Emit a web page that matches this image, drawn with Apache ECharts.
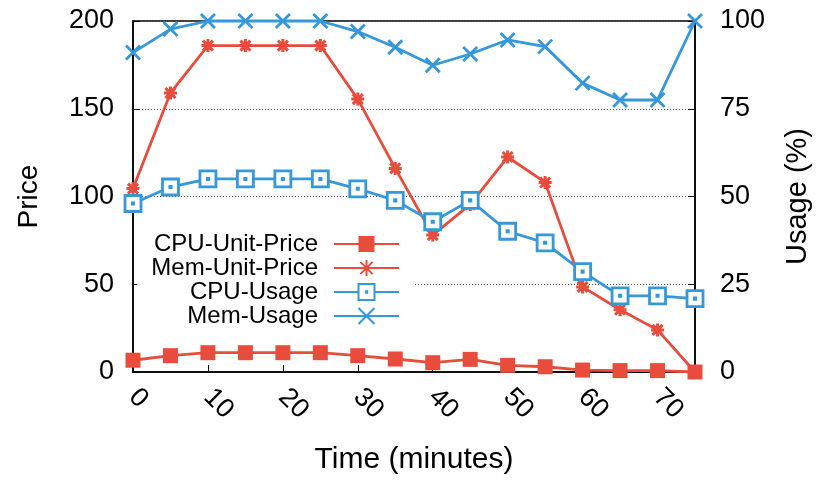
<!DOCTYPE html>
<html>
<head>
<meta charset="utf-8">
<script src="https://cdn.jsdelivr.net/npm/echarts@6/dist/echarts.min.js"></script>
<style>
  html, body { margin: 0; padding: 0; background: #fff; }
  #chart { width: 825px; height: 487px; }
</style>
</head>
<body>
<div id="chart"></div>
<script>
// Sampling times (minutes)
const time = [0, 5, 10, 15, 20, 25, 30, 35, 40, 45, 50, 55, 60, 65, 70, 75];

// Prices (left axis)
const cpuUnitPrice = [6.7, 9.3, 11, 11, 11, 11, 9.3, 7.4, 5.3, 7.2, 3.8, 3, 1.1, 0.8, 0.8, 0];
const memUnitPrice = [104.5, 159, 186, 186, 186, 186, 155.5, 116, 78, 95.5, 122.5, 108, 48.5, 35.5, 24, 0];

// Utilisation in percent (right axis)
const cpuUsage = [48, 52.7, 55, 55, 55, 55, 52.2, 48.9, 42.8, 48.9, 40.1, 36.8, 28.6, 21.7, 21.7, 20.9];
const memUsage = [91, 97.7, 100, 100, 100, 100, 97, 92.5, 87.4, 90.6, 94.6, 92.7, 82.3, 77.5, 77.5, 100];

// Axis ticks
const xTicks = { min: 0, max: 75, interval: 10 };
const priceTicks = { min: 0, max: 200, interval: 50 };
const usageTicks = { min: 0, max: 100, interval: 25 };

const RED = '#e74c3c';
const BLUE = '#3498db';
const FONT = '"Liberation Sans", Arial, Helvetica, sans-serif';

const pairs = vals => time.map((t, i) => [t, vals[i]]);

// marker shapes
const STAR = 'path://M0,0L10,10M10,0L0,10M5,-1.5L5,11.5M-1.5,5L11.5,5';
const CROSS = 'path://M0,0L10,10M10,0L0,10';
const BOX = 'path://M0,0L10,0L10,10L0,10Z M4.6,4.6L5.4,4.6L5.4,5.4L4.6,5.4Z';

const chart = echarts.init(document.getElementById('chart'), null, { renderer: 'canvas' });

const axisText = { color: '#000', fontFamily: FONT, fontSize: 27 };

chart.setOption({
  animation: false,
  backgroundColor: '#fff',
  textStyle: { fontFamily: FONT },
  grid: {
    left: 133, right: 130, top: 21, bottom: 115,
    show: true, borderColor: '#000', borderWidth: 1.5, backgroundColor: 'transparent'
  },
  legend: {
    orient: 'vertical',
    align: 'right',
    right: 410,
    top: 226,
    padding: [6, 15, 10, 14],
    backgroundColor: '#fff',
    itemGap: 0,
    itemWidth: 65,
    itemHeight: 20,
    textStyle: { color: '#000', fontFamily: FONT, fontSize: 24, lineHeight: 24, padding: [0, 11, 0, 0] },
    data: ['CPU-Unit-Price', 'Mem-Unit-Price', 'CPU-Usage', 'Mem-Usage']
  },
  xAxis: {
    type: 'value',
    min: xTicks.min, max: xTicks.max, interval: xTicks.interval,
    name: 'Time (minutes)',
    nameLocation: 'middle',
    nameGap: 73,
    nameTextStyle: { color: '#000', fontFamily: FONT, fontSize: 30 },
    axisLine: { lineStyle: { color: '#000', width: 1.5 } },
    axisTick: { inside: true, length: 7, lineStyle: { color: '#000', width: 1 } },
    axisLabel: Object.assign({ rotate: -45, margin: 21, showMaxLabel: false }, axisText),
    splitLine: { show: false }
  },
  yAxis: [
    {
      type: 'value',
      position: 'left',
      min: priceTicks.min, max: priceTicks.max, interval: priceTicks.interval,
      name: 'Price',
      nameLocation: 'middle',
      nameRotate: 90,
      nameGap: 90,
      nameTextStyle: { color: '#000', fontFamily: FONT, fontSize: 28 },
      axisLine: { show: true, lineStyle: { color: '#000', width: 1.5 } },
      axisTick: { show: true, inside: true, length: 7, lineStyle: { color: '#000', width: 1 } },
      axisLabel: Object.assign({ margin: 19 }, axisText),
      splitLine: { show: true, lineStyle: { color: '#555', width: 1, type: [1, 2] } }
    },
    {
      type: 'value',
      position: 'right',
      min: usageTicks.min, max: usageTicks.max, interval: usageTicks.interval,
      name: 'Usage (%)',
      nameLocation: 'middle',
      nameRotate: 90,
      nameGap: 88,
      nameTextStyle: { color: '#000', fontFamily: FONT, fontSize: 29 },
      axisLine: { show: true, lineStyle: { color: '#000', width: 1.5 } },
      axisTick: { show: true, inside: true, length: 7, lineStyle: { color: '#000', width: 1 } },
      axisLabel: Object.assign({ margin: 25 }, axisText),
      splitLine: { show: false }
    }
  ],
  series: [
    {
      name: 'CPU-Unit-Price',
      type: 'line',
      yAxisIndex: 0,
      clip: false,
      data: pairs(cpuUnitPrice),
      symbol: 'rect',
      symbolSize: 15,
      lineStyle: { color: RED, width: 2.8 },
      itemStyle: { color: RED }
    },
    {
      name: 'Mem-Unit-Price',
      type: 'line',
      yAxisIndex: 0,
      clip: false,
      data: pairs(memUnitPrice),
      symbol: STAR,
      symbolSize: 13,
      lineStyle: { color: RED, width: 2.8 },
      itemStyle: { color: 'none', borderColor: RED, borderWidth: 3 }
    },
    {
      name: 'CPU-Usage',
      type: 'line',
      yAxisIndex: 1,
      clip: false,
      data: pairs(cpuUsage),
      symbol: BOX,
      symbolSize: 16,
      lineStyle: { color: BLUE, width: 2.8 },
      itemStyle: { color: '#fff', borderColor: BLUE, borderWidth: 2.8 }
    },
    {
      name: 'Mem-Usage',
      type: 'line',
      yAxisIndex: 1,
      clip: false,
      data: pairs(memUsage),
      symbol: CROSS,
      symbolSize: 14,
      lineStyle: { color: BLUE, width: 2.8 },
      itemStyle: { color: 'none', borderColor: BLUE, borderWidth: 2.8 }
    }
  ]
});
</script>
</body>
</html>
